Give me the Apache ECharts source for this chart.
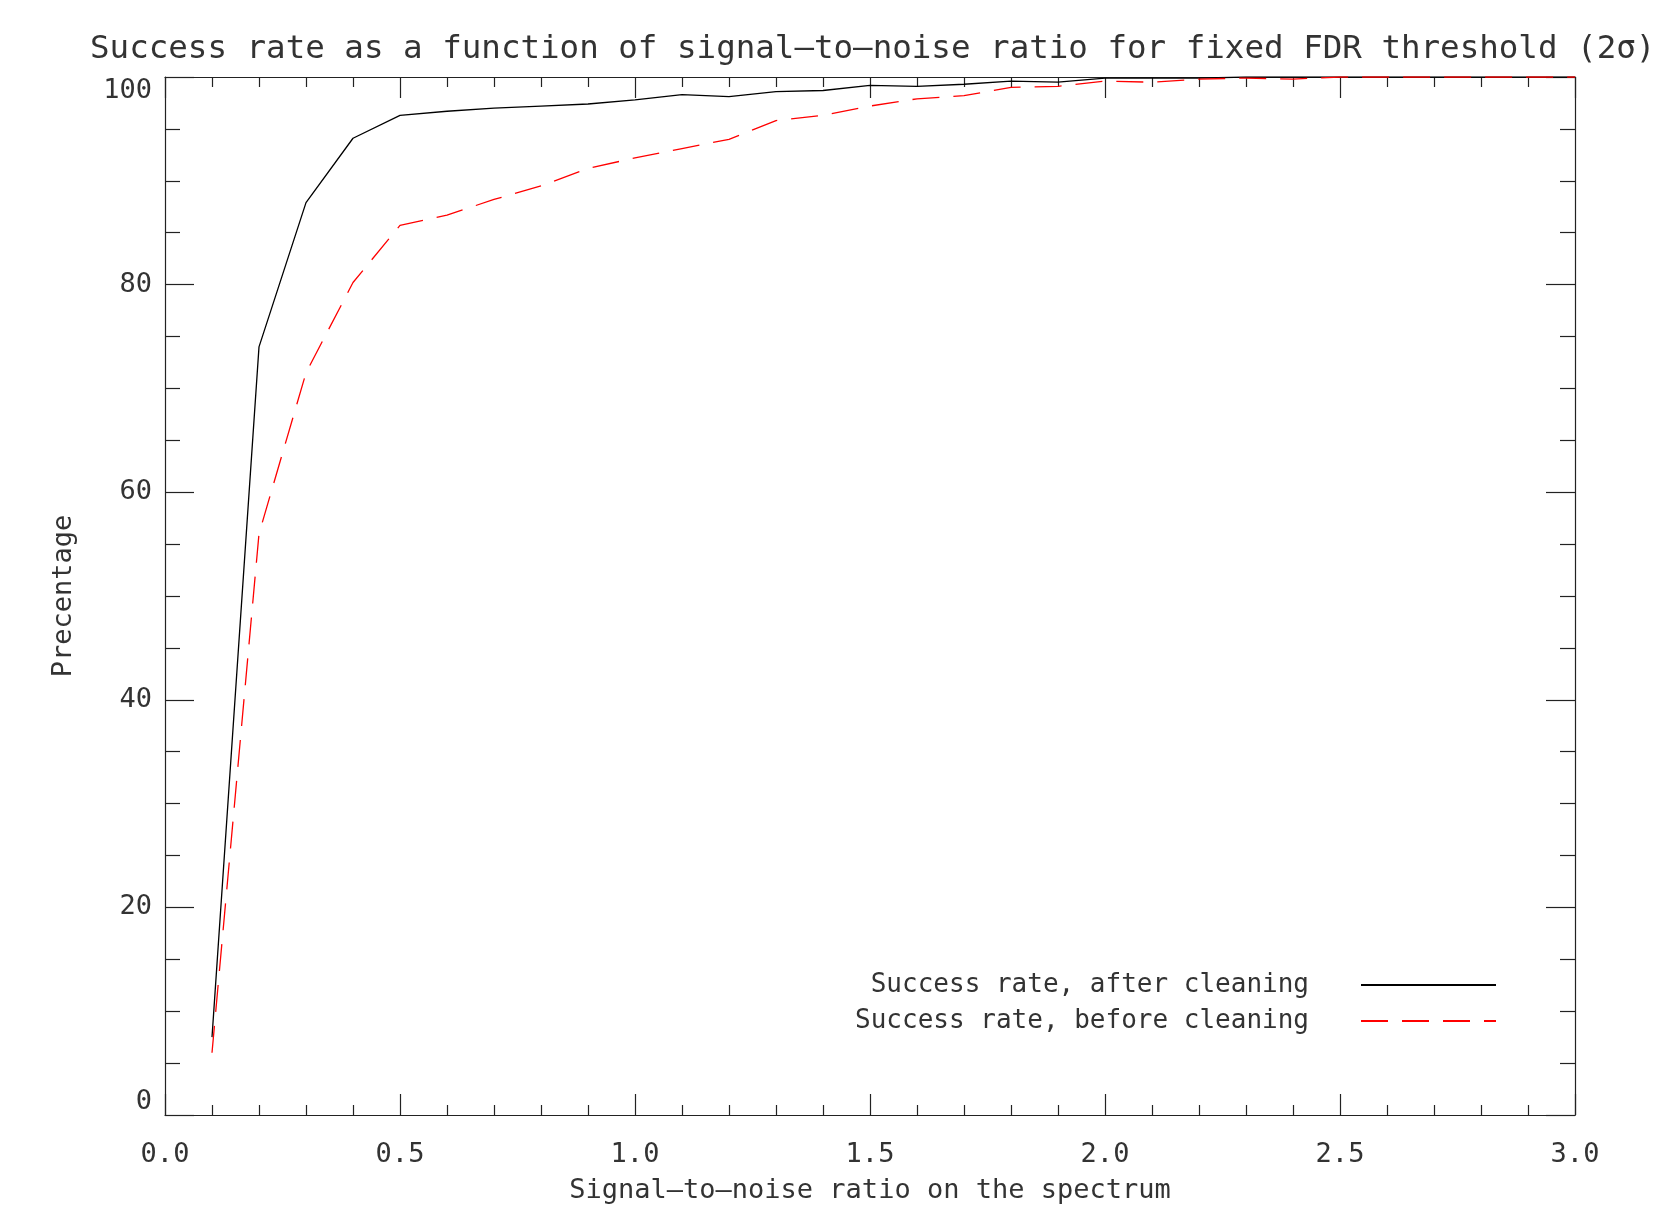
<!DOCTYPE html>
<html>
<head>
<meta charset="utf-8">
<script src="https://cdn.jsdelivr.net/npm/echarts@6/dist/echarts.min.js"></script>
<style>
  html, body { margin: 0; padding: 0; background: #fff; }
  #chart { width: 1664px; height: 1209px; }
</style>
</head>
<body>
<div id="chart"></div>
<script>
// signal-to-noise ratio values (x)
var snr = [0.1, 0.2, 0.3, 0.4, 0.5, 0.6, 0.7, 0.8, 0.9, 1.0,
           1.1, 1.2, 1.3, 1.4, 1.5, 1.6, 1.7, 1.8, 1.9, 2.0,
           2.1, 2.2, 2.3, 2.4, 2.5, 2.6, 2.7, 2.8, 2.9, 3.0];
// success rate after cleaning (%)
var afterCleaning = [7.5, 74.0, 87.9, 94.1, 96.3, 96.7, 97.0, 97.2, 97.4, 97.8,
                     98.3, 98.1, 98.6, 98.7, 99.2, 99.1, 99.3, 99.6, 99.5, 99.9,
                     99.9, 99.9, 100, 100, 100, 100, 100, 100, 100, 100];
// success rate before cleaning (%)
var beforeCleaning = [6.0, 56.0, 71.5, 80.2, 85.7, 86.7, 88.2, 89.5, 91.2, 92.2,
                      93.1, 94.0, 95.8, 96.3, 97.2, 97.9, 98.2, 99.0, 99.1, 99.6,
                      99.5, 99.8, 99.9, 99.8, 100, 100, 100, 100, 100, 100];
var seriesNames = ['Success rate, after cleaning', 'Success rate, before cleaning'];

function pairs(ys) {
	return snr.map(function (x, i) { return [x, ys[i]]; });
}

var font = 'DejaVu Sans Mono';
var ink = '#333';
var frame = { color: '#222', width: 1.2 };
var axisLine = { show: true, onZero: false, lineStyle: frame };

function xAx(pos, labels) {
	return {
		type: 'value', position: pos, min: 0, max: 3, interval: 0.5,
		axisLine: axisLine,
		axisTick: { show: true, inside: true, length: 21, lineStyle: frame },
		minorTick: { show: true, splitNumber: 5, length: 10, lineStyle: frame },
		splitLine: { show: false },
		axisLabel: {
			show: labels, margin: 26, fontSize: 27, color: ink, fontFamily: font,
			formatter: function (v) { return v.toFixed(1); }
		},
		name: labels ? 'Signal\u2013to\u2013noise ratio on the spectrum' : '',
		nameLocation: 'middle', nameGap: 62,
		nameTextStyle: { fontSize: 27, color: ink, fontFamily: font }
	};
}
function yAx(pos, labels) {
	return {
		type: 'value', position: pos, min: 0, max: 100, interval: 20,
		axisLine: axisLine,
		axisTick: { show: true, inside: true, length: 29, lineStyle: frame },
		minorTick: { show: true, splitNumber: 4, length: 15, lineStyle: frame },
		splitLine: { show: false },
		axisLabel: {
			show: labels, margin: 13, fontSize: 27, color: ink, fontFamily: font,
			verticalAlignMaxLabel: 'top', verticalAlignMinLabel: 'bottom'
		},
		name: labels ? 'Precentage' : '',
		nameLocation: 'middle', nameGap: 88,
		nameTextStyle: { fontSize: 27, color: ink, fontFamily: font }
	};
}

var myChart = echarts.init(document.getElementById('chart'));
var option = {
	animation: false,
	backgroundColor: '#fff',
	title: {
		text: 'Success rate as a function of signal\u2013to\u2013noise ratio for fixed FDR threshold (2\u03c3)',
		left: 85, top: 28,
		textStyle: { fontSize: 32.5, fontWeight: 'normal', color: ink, fontFamily: font }
	},
	grid: { left: 165, right: 89, top: 77, bottom: 91 },
	xAxis: [xAx('bottom', true), xAx('top', false)],
	yAxis: [yAx('left', true), yAx('right', false)],
	legend: {
		data: seriesNames,
		orient: 'vertical',
		align: 'right',
		right: 162, top: 965,
		itemWidth: 135, itemHeight: 14, itemGap: 6,
		itemStyle: { opacity: 0 },
		textStyle: { fontSize: 26, lineHeight: 30, color: ink, fontFamily: font, padding: [0, 47, 0, 0] }
	},
	series: [{
		name: seriesNames[0],
		type: 'line',
		symbol: 'none',
		lineStyle: { color: '#000', width: 1.3 },
		itemStyle: { color: '#000' },
		data: pairs(afterCleaning)
	}, {
		name: seriesNames[1],
		type: 'line',
		symbol: 'none',
		lineStyle: { color: '#ff0000', width: 1.3, type: [27, 14] },
		itemStyle: { color: '#ff0000' },
		data: pairs(beforeCleaning)
	}]
};
myChart.setOption(option);
</script>
</body>
</html>
